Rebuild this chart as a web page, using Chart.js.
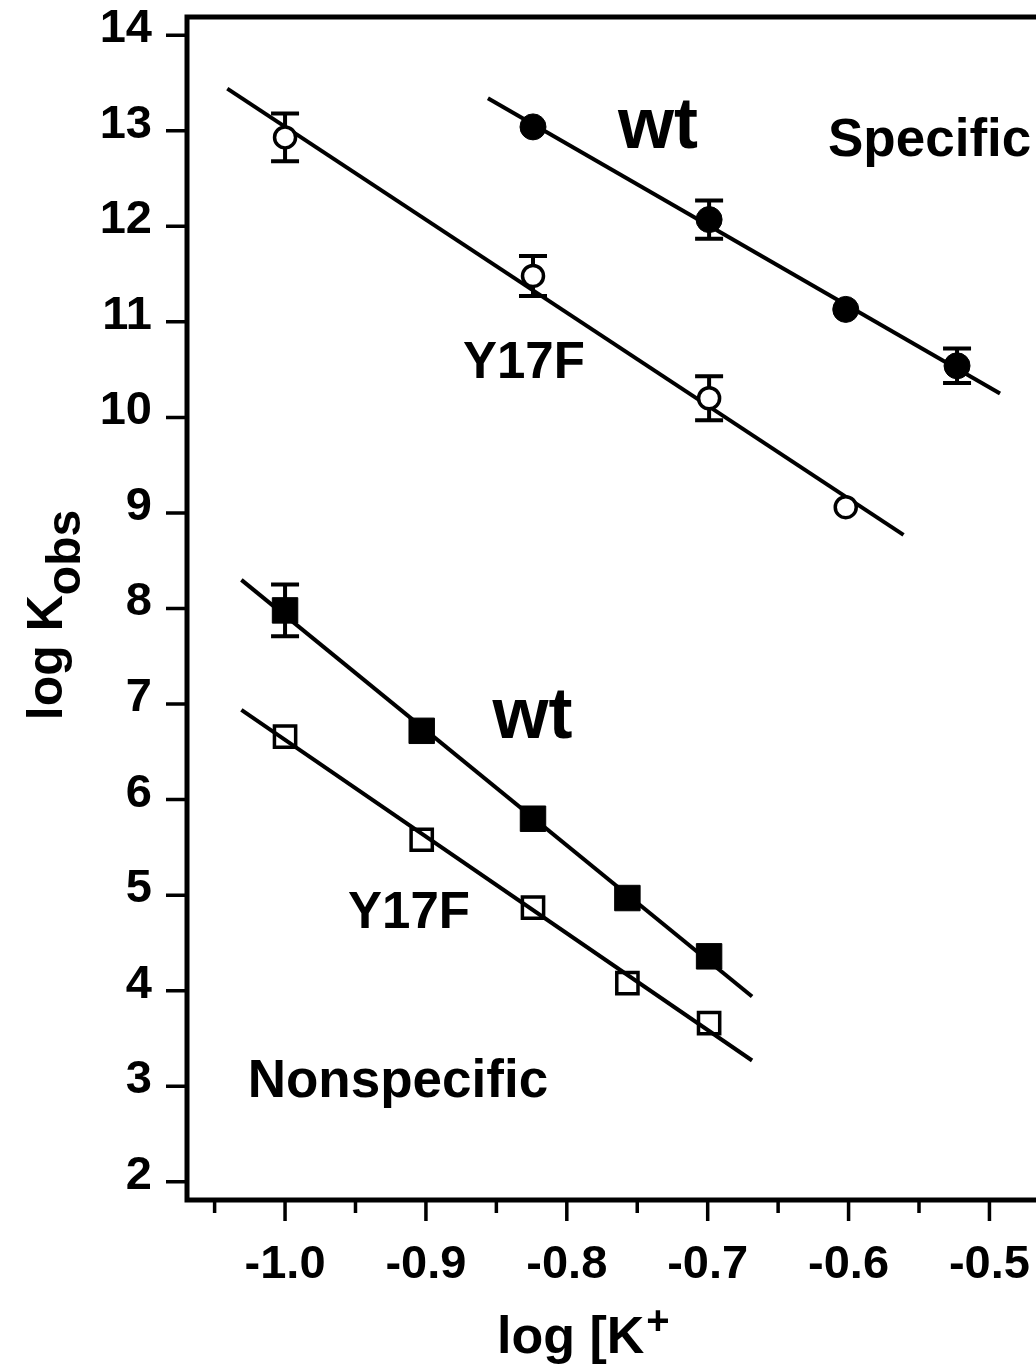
<!DOCTYPE html>
<html>
<head>
<meta charset="utf-8">
<script src="https://cdn.jsdelivr.net/npm/chart.js@4.4.1/dist/chart.umd.min.js"></script>
<style>
  html, body { margin: 0; padding: 0; background: #fff; overflow: hidden; }
</style>
</head>
<body>
<canvas id="myChart" width="1062" height="1400"></canvas>

<script>
// x = log [K+]  (0.10, 0.125, 0.15, 0.175, 0.20, 0.25, 0.30 M)
var specWtX     = [-0.824, -0.699, -0.602, -0.523];
var specWtY     = [13.04, 12.07, 11.13, 10.54];
var specWtErr   = [0, 0.20, 0, 0.18];

var specY17FX   = [-1.0, -0.824, -0.699, -0.602];
var specY17FY   = [12.93, 11.48, 10.20, 9.06];
var specY17FErr = [0.25, 0.21, 0.23, 0];

var nonX        = [-1.0, -0.903, -0.824, -0.757, -0.699];
var nonWtY      = [7.98, 6.72, 5.80, 4.97, 4.36];
var nonWtErr    = [0.27, 0, 0, 0, 0];
var nonY17FY    = [6.66, 5.58, 4.87, 4.08, 3.66];

// fitted straight lines: [x0, x1], [y0, y1]
var fitSpecWtX   = [-0.856, -0.4925], fitSpecWtY   = [13.34, 10.25];
var fitSpecY17FX = [-1.041, -0.561],  fitSpecY17FY = [13.44, 8.77];
var fitNonWtX    = [-1.031, -0.6685], fitNonWtY    = [8.30, 3.94];
var fitNonY17FX  = [-1.031, -0.6685], fitNonY17FY  = [6.94, 3.27];

// axis ticks
var xMajor = [-1.0, -0.9, -0.8, -0.7, -0.6, -0.5];
var xMinor = [-1.05, -0.95, -0.85, -0.75, -0.65, -0.55];
var yTicks = [2, 3, 4, 5, 6, 7, 8, 9, 10, 11, 12, 13, 14];

// text labels inside the plot
var noteText = ['wt', 'Specific', 'Y17F', 'wt', 'Y17F', 'Nonspecific'];
var noteX    = [-0.7637, -0.6146, -0.8737, -0.8527, -0.9553, -1.0265];
var noteY    = [12.82, 12.74, 10.41, 6.65, 4.655, 2.887];
var noteSize = [72, 53, 51, 72, 51, 53];

var FONT = '"Liberation Sans", Arial, Helvetica, sans-serif';

function pts(xs, ys) {
  return xs.map(function(x, i) { return {x: x, y: ys[i]}; });
}

function fitLine(xs, ys) {
  return {
    data: pts(xs, ys), showLine: true, pointRadius: 0,
    borderColor: '#000', borderWidth: 4, order: 1
  };
}

// frame, ticks, error bars, texts
var extras = {
  id: 'extras',
  beforeDatasetsDraw: function(chart) {
    var ctx = chart.ctx, ys = chart.scales.y;
    ctx.save();
    ctx.strokeStyle = '#000';
    ctx.lineWidth = 4;
    chart.data.datasets.forEach(function(ds, i) {
      if (!ds.errorBars) return;
      var meta = chart.getDatasetMeta(i);
      ds.data.forEach(function(p, j) {
        var e = ds.errorBars[j];
        if (!e) return;
        var px = meta.data[j].x;
        var t = ys.getPixelForValue(p.y + e), b = ys.getPixelForValue(p.y - e);
        ctx.beginPath();
        ctx.moveTo(px, t); ctx.lineTo(px, b);
        ctx.moveTo(px - 14, t); ctx.lineTo(px + 14, t);
        ctx.moveTo(px - 14, b); ctx.lineTo(px + 14, b);
        ctx.stroke();
      });
    });
    ctx.restore();
  },
  afterDraw: function(chart) {
    var ctx = chart.ctx, a = chart.chartArea;
    var xs = chart.scales.x, ys = chart.scales.y;
    ctx.save();
    ctx.strokeStyle = '#000';
    ctx.fillStyle = '#000';

    // ticks
    ctx.lineWidth = 3.5;
    ctx.beginPath();
    xs.ticks.forEach(function(t) {
      var px = xs.getPixelForValue(t.value);
      var len = xMajor.indexOf(t.value) >= 0 ? 21 : 13;
      ctx.moveTo(px, a.bottom); ctx.lineTo(px, a.bottom + len);
    });
    ys.ticks.forEach(function(t) {
      var py = ys.getPixelForValue(t.value);
      ctx.moveTo(a.left, py); ctx.lineTo(a.left - 21, py);
    });
    ctx.stroke();

    // frame
    ctx.lineWidth = 5;
    ctx.strokeRect(a.left, a.top, a.right - a.left, a.bottom - a.top);

    // notes
    ctx.textAlign = 'left';
    ctx.textBaseline = 'alphabetic';
    noteText.forEach(function(s, i) {
      ctx.font = 'bold ' + noteSize[i] + 'px ' + FONT;
      ctx.fillText(s, xs.getPixelForValue(noteX[i]), ys.getPixelForValue(noteY[i]));
    });

    // x title: log [K+
    ctx.font = 'bold 52px ' + FONT;
    var main = 'log [K';
    ctx.fillText(main, 497, 1353);
    var w = ctx.measureText(main).width;
    ctx.font = 'bold 40px ' + FONT;
    ctx.fillText('+', 497 + w + 2, 1334);

    // y title: log K_obs
    ctx.font = 'bold 50px ' + FONT;
    var w1 = ctx.measureText('log K').width;
    ctx.font = 'bold 48px ' + FONT;
    var w2 = ctx.measureText('obs').width;
    ctx.translate(62, 615 + (w1 + w2) / 2);
    ctx.rotate(-Math.PI / 2);
    ctx.font = 'bold 50px ' + FONT;
    ctx.fillText('log K', 0, 0);
    ctx.font = 'bold 48px ' + FONT;
    ctx.fillText('obs', w1, 18);
    ctx.restore();
  }
};

var ctx = document.getElementById('myChart').getContext('2d');
var myChart = new Chart(ctx, {
  type: 'scatter',
  data: {
    datasets: [
      {
        label: 'Specific wt', data: pts(specWtX, specWtY), errorBars: specWtErr,
        pointStyle: 'circle', pointRadius: 13,
        backgroundColor: '#000', borderColor: '#000', borderWidth: 1, order: 0
      },
      {
        label: 'Specific Y17F', data: pts(specY17FX, specY17FY), errorBars: specY17FErr,
        pointStyle: 'circle', pointRadius: 10.5,
        backgroundColor: '#fff', borderColor: '#000', borderWidth: 3.5, order: 0
      },
      {
        label: 'Nonspecific wt', data: pts(nonX, nonWtY), errorBars: nonWtErr,
        pointStyle: 'rect', pointRadius: 18,
        backgroundColor: '#000', borderColor: '#000', borderWidth: 1, order: 0
      },
      {
        label: 'Nonspecific Y17F', data: pts(nonX, nonY17FY),
        pointStyle: 'rect', pointRadius: 15,
        backgroundColor: 'rgba(255,255,255,0)', borderColor: '#000', borderWidth: 3.5, order: 0
      },
      fitLine(fitSpecWtX, fitSpecWtY),
      fitLine(fitSpecY17FX, fitSpecY17FY),
      fitLine(fitNonWtX, fitNonWtY),
      fitLine(fitNonY17FX, fitNonY17FY)
    ]
  },
  options: {
    responsive: false,
    animation: false,
    events: [],
    layout: { autoPadding: false, padding: { left: 0, top: 17, right: 0, bottom: 0 } },
    plugins: { legend: { display: false }, tooltip: { enabled: false } },
    scales: {
      x: {
        type: 'linear', position: 'bottom',
        min: -1.0696, max: -0.4485,
        grid: { display: false, drawTicks: false },
        border: { display: false },
        afterBuildTicks: function(s) {
          s.ticks = xMajor.concat(xMinor).sort(function(p, q) { return p - q; })
            .map(function(v) { return {value: v}; });
        },
        afterFit: function(s) {
          s.height = 200;
          s.paddingLeft = 0; s.paddingRight = 0;
        },
        ticks: {
          padding: 37,
          color: '#000',
          maxRotation: 0,
          autoSkip: false,
          font: { family: FONT, size: 47, weight: 'bold' },
          callback: function(v) { return xMajor.indexOf(v) >= 0 ? v.toFixed(1) : ''; }
        }
      },
      y: {
        type: 'linear', position: 'left',
        min: 1.81, max: 14.19,
        grid: { display: false, drawTicks: false },
        border: { display: false },
        afterBuildTicks: function(s) {
          s.ticks = yTicks.map(function(v) { return {value: v}; });
        },
        afterFit: function(s) {
          s.width = 187;
          s.paddingTop = 0; s.paddingBottom = 0;
        },
        ticks: {
          padding: 35,
          labelOffset: -6,
          color: '#000',
          autoSkip: false,
          font: { family: FONT, size: 47, weight: 'bold', lineHeight: 0.7 },
          callback: function(v) { return String(v); }
        }
      }
    }
  },
  plugins: [extras]
});
</script>
</body>
</html>
